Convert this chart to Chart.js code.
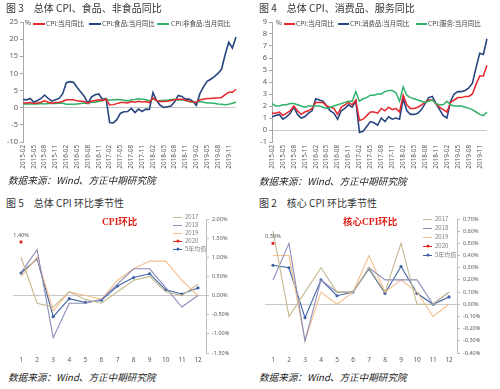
<!DOCTYPE html>
<html><head><meta charset="utf-8">
<script src="https://cdn.jsdelivr.net/npm/chart.js@4"></script>
<style>
html,body{margin:0;padding:0;background:#fff;}
body{width:500px;height:389px;overflow:hidden;position:relative;font-family:"Noto Sans CJK SC","Noto Sans",sans-serif;}
.t{position:absolute;white-space:nowrap;transform:translateY(-50%);line-height:1.2;}
.ttl{font-size:10px;color:#333;}
.src{font-size:9.6px;color:#222;font-style:italic;}
.lg{font-size:6.5px;color:#404040;}
.lgs{font-size:6px;color:#808080;}
.ln{position:absolute;height:1.5px;}
.red{font-family:"Liberation Serif","DejaVu Serif","Noto Sans CJK SC",serif;font-weight:bold;color:#e3211b;font-size:9.5px;}
canvas{position:absolute;}
.dot{position:absolute;width:3px;height:3px;border-radius:50%;transform:translate(-50%,-50%);}
</style></head>
<body>
<canvas id="c3" width="250" height="162" style="left:0;top:14px"></canvas>
<canvas id="c4" width="250" height="162" style="left:250px;top:14px"></canvas>
<canvas id="c5" width="250" height="157" style="left:0;top:210px"></canvas>
<canvas id="c2" width="250" height="157" style="left:250px;top:210px"></canvas>

<div class="t ttl" style="left:6px;top:8px">图 3　总体 CPI、食品、非食品同比</div>
<div class="t ttl" style="left:259px;top:8px">图 4　总体 CPI、消费品、服务同比</div>
<div class="t ttl" style="left:6px;top:203px">图 5　总体 CPI 环比季节性</div>
<div class="t ttl" style="left:259px;top:203px">图 2　核心 CPI 环比季节性</div>

<div class="t src" style="left:8px;top:181px">数据来源：Wind、方正中期研究院</div>
<div class="t src" style="left:259px;top:182px">数据来源：Wind、方正中期研究院</div>
<div class="t src" style="left:8px;top:378px">数据来源：Wind、方正中期研究院</div>
<div class="t src" style="left:259px;top:378px">数据来源：Wind、方正中期研究院</div>

<div class="t lg" style="left:25px;top:23px">%</div>
<div class="ln" style="left:33px;top:23px;width:12px;background:#e8262b"></div>
<div class="t lg" style="left:46px;top:24px">CPI:当月同比</div>
<div class="ln" style="left:89px;top:23px;width:12px;background:#27457f"></div>
<div class="t lg" style="left:102px;top:24px">CPI:食品:当月同比</div>
<div class="ln" style="left:157px;top:23px;width:12px;background:#2fb36a"></div>
<div class="t lg" style="left:171px;top:24px">CPI:非食品:当月同比</div>

<div class="t lg" style="left:276px;top:23px">%</div>
<div class="ln" style="left:284px;top:23px;width:11px;background:#e8262b"></div>
<div class="t lg" style="left:296px;top:24px">CPI:当月同比</div>
<div class="ln" style="left:338px;top:23px;width:11px;background:#27457f"></div>
<div class="t lg" style="left:350px;top:24px">CPI:消费品:当月同比</div>
<div class="ln" style="left:416px;top:23px;width:11px;background:#2fb36a"></div>
<div class="t lg" style="left:428px;top:24px">CPI:服务:当月同比</div>

<div class="t red" style="left:102px;top:223px">CPI环比</div>
<div class="t red" style="left:343px;top:223px">核心CPI环比</div>

<div id="lg5"></div>
<div id="lg2"></div>

<script>
// ---------- data ----------
const months = ['2015-02','2015-03','2015-04','2015-05','2015-06','2015-07','2015-08','2015-09','2015-10','2015-11','2015-12',
'2016-01','2016-02','2016-03','2016-04','2016-05','2016-06','2016-07','2016-08','2016-09','2016-10','2016-11','2016-12',
'2017-01','2017-02','2017-03','2017-04','2017-05','2017-06','2017-07','2017-08','2017-09','2017-10','2017-11','2017-12',
'2018-01','2018-02','2018-03','2018-04','2018-05','2018-06','2018-07','2018-08','2018-09','2018-10','2018-11','2018-12',
'2019-01','2019-02','2019-03','2019-04','2019-05','2019-06','2019-07','2019-08','2019-09','2019-10','2019-11','2019-12',
'2020-01'];
const cpiYoY = [1.4,1.4,1.5,1.2,1.4,1.6,2.0,1.6,1.3,1.5,1.6,
1.8,2.3,2.3,2.3,2.0,1.9,1.8,1.3,1.9,2.1,2.3,2.1,
2.5,0.8,0.9,1.2,1.5,1.5,1.4,1.8,1.6,1.9,1.7,1.8,
1.5,2.9,2.1,1.8,1.8,1.9,2.1,2.3,2.5,2.5,2.2,1.9,
1.7,1.5,2.3,2.5,2.7,2.7,2.8,2.8,3.0,3.8,4.5,4.5,
5.4];
const foodYoY = [2.4,2.3,2.7,1.6,2.1,2.7,3.7,2.7,1.9,2.3,2.7,
4.1,7.3,7.6,7.4,5.9,4.6,3.3,1.3,3.2,3.8,4.0,2.4,
2.7,-4.3,-4.4,-3.5,-1.6,-1.2,-1.1,-0.2,-1.4,-0.4,-1.1,-0.4,
-0.5,4.4,2.1,0.7,0.1,0.3,0.5,1.7,3.6,3.3,2.5,2.5,
1.9,0.7,4.1,6.1,7.7,8.3,9.1,10.0,11.2,15.5,19.1,17.4,
20.6];
const nonFoodYoY = [1.0,1.1,1.1,1.1,1.1,1.2,1.1,1.2,1.2,1.2,1.3,
1.3,1.0,1.0,1.0,1.1,1.2,1.4,1.3,1.6,1.6,1.9,2.0,
2.5,2.2,2.3,2.4,2.3,2.2,2.0,2.3,2.4,2.6,2.5,2.4,
2.0,2.5,2.1,2.0,2.2,2.2,2.4,2.5,2.2,2.3,2.1,1.8,
1.6,1.7,1.8,1.6,1.4,1.4,1.3,1.1,1.0,0.9,1.0,1.3,
1.6];
const consumerYoY = [1.1,1.2,1.3,0.9,1.1,1.4,1.9,1.3,1.0,1.1,1.4,
1.6,2.6,2.5,2.4,2.0,1.6,1.4,0.9,1.6,1.8,2.1,1.9,
2.4,-0.2,-0.1,0.3,0.7,0.6,0.4,1.0,0.7,1.1,0.9,1.0,
0.9,2.6,1.6,1.3,1.3,1.4,1.7,2.2,2.7,2.8,2.2,1.7,
1.2,1.0,2.4,3.0,3.2,3.2,3.3,3.5,3.9,5.2,6.4,6.3,
7.6];
const serviceYoY = [2.2,2.0,2.0,2.1,2.1,2.2,2.2,2.1,2.0,1.9,2.0,
2.0,2.0,2.0,1.9,1.8,1.9,2.0,2.1,2.2,2.3,2.4,2.4,
3.2,2.4,2.6,2.7,2.9,2.9,3.0,3.0,3.2,3.3,3.3,3.1,
2.4,3.6,2.9,2.7,2.6,2.5,2.4,2.3,2.4,2.5,2.2,2.1,
2.1,2.4,2.1,2.0,2.0,2.0,1.9,1.8,1.7,1.5,1.3,1.2,
1.5];

const monthNums = ['1','2','3','4','5','6','7','8','9','10','11','12'];
const mom2017 = [1.0,-0.2,-0.3,0.1,-0.1,-0.2,0.1,0.4,0.5,0.1,0.0,0.3];
const mom2018 = [0.6,1.2,-1.1,-0.2,-0.2,-0.1,0.3,0.7,0.7,0.2,-0.3,0.0];
const mom2019 = [0.5,1.0,-0.4,0.1,0.0,-0.1,0.4,0.7,0.9,0.9,0.4,0.0];
const mom2020 = [1.4,null,null,null,null,null,null,null,null,null,null,null];
const momAvg5 = [0.59,0.96,-0.55,-0.08,-0.18,-0.12,0.25,0.47,0.57,0.15,0.04,0.20];

const core2017 = [0.6,-0.1,0.1,0.3,0.1,0.1,0.3,0.1,0.5,0.0,0.0,0.1];
const core2018 = [0.2,0.5,-0.3,0.2,0.1,0.1,0.3,0.2,0.2,0.2,0.0,0.1];
const core2019 = [0.4,0.4,-0.3,0.1,0.0,0.1,0.4,0.1,0.2,0.1,-0.1,0.0];
const core2020 = [0.5,null,null,null,null,null,null,null,null,null,null,null];
const coreAvg5 = [0.32,0.30,-0.11,0.20,0.07,0.10,0.29,0.09,0.31,0.09,0.00,0.06];

// ---------- styles ----------
const RED='#e8262b', NAVY='#27457f', GREEN='#2fb36a';
const C17='#c4b98e', C18='#8c8cba', C19='#f5bf8c', C20='#e0271f', CAVG='#3d62a4';
const AX='#a6a6a6', TXT='#595959';
const FONT='"Noto Sans","Noto Sans CJK SC",sans-serif';

function lineDs(label,data,color,w){
  return {label,data,borderColor:color,backgroundColor:color,borderWidth:w,pointRadius:0,tension:0,fill:false};
}
function zeroGrid(c){ return Math.abs(c.tick.value)<1e-9 ? '#c8c8c8' : 'rgba(0,0,0,0)'; }

function topChart(id,datasets,min,max,step,yW,padR){
  new Chart(document.getElementById(id),{
    type:'line',
    data:{labels:months,datasets},
    options:{
      responsive:false,animation:false,
      layout:{padding:{top:8,right:padR,left:0,bottom:0}},
      plugins:{legend:{display:false},tooltip:{enabled:false}},
      scales:{
        x:{offset:false,
           grid:{display:false,drawTicks:false,tickLength:0},border:{display:false},
           ticks:{autoSkip:false,minRotation:90,maxRotation:90,padding:3,color:TXT,
             font:{family:FONT,size:6.3},
             callback:(v,i)=> i%3===0 ? months[i] : ''},
           afterFit:s=>{s.height=34;}},
        y:{min,max,
           ticks:{stepSize:step,color:TXT,font:{family:FONT,size:7.5},padding:2},
           grid:{color:zeroGrid,tickColor:AX,tickLength:3,lineWidth:1},
           border:{display:true,color:AX},
           afterFit:s=>{s.width=yW;}}
      }
    }
  });
}

topChart('c3',[
  lineDs('CPI:当月同比',cpiYoY,RED,1.5),
  lineDs('CPI:非食品:当月同比',nonFoodYoY,GREEN,1.5),
  lineDs('CPI:食品:当月同比',foodYoY,NAVY,1.6)
],-10,25,5,23,14);

topChart('c4',[
  lineDs('CPI:服务:当月同比',serviceYoY,GREEN,1.5),
  lineDs('CPI:当月同比',cpiYoY,RED,1.5),
  lineDs('CPI:消费品:当月同比',consumerYoY,NAVY,1.6)
],-1,9,1,22,13);

const pointLabel={
  id:'pointLabel',
  afterDatasetsDraw(chart){
    const ctx=chart.ctx;
    chart.data.datasets.forEach((ds,di)=>{
      if(ds.label!=='2020')return;
      const p=chart.getDatasetMeta(di).data[0];
      ctx.save();
      ctx.font='5.5px '+FONT;ctx.fillStyle='#555';ctx.textAlign='center';ctx.textBaseline='bottom';
      ctx.fillText(ds.data[0].toFixed(2)+'%',p.x,p.y-4);
      ctx.restore();
    });
  }
};

function seasonChart(id,sets,min,max,step,padL,padR){
  const ds=[
    lineDs('2017',sets[0],C17,1.1),
    lineDs('2018',sets[1],C18,1.1),
    lineDs('2019',sets[2],C19,1.1),
    Object.assign(lineDs('5年均值',sets[4],CAVG,1.1),{pointRadius:1.6,pointBackgroundColor:CAVG,pointBorderWidth:0}),
    Object.assign(lineDs('2020',sets[3],C20,1.5),{pointRadius:2,pointStyle:'rect',pointBackgroundColor:C20,pointBorderWidth:0})
  ];
  new Chart(document.getElementById(id),{
    type:'line',
    data:{labels:monthNums,datasets:ds},
    plugins:[pointLabel],
    options:{
      responsive:false,animation:false,
      layout:{padding:{top:9,right:padR,left:padL,bottom:0}},
      plugins:{legend:{display:false},tooltip:{enabled:false}},
      scales:{
        x:{offset:true,grid:{display:false,drawTicks:false,tickLength:0},border:{display:false},
           ticks:{color:TXT,font:{family:FONT,size:6.5},padding:3,maxRotation:0},
           afterFit:s=>{s.height=14;}},
        y:{position:'right',min,max,
           ticks:{stepSize:step,color:TXT,font:{family:FONT,size:5.5},padding:3,
             callback:v=>v.toFixed(2)+'%'},
           grid:{color:zeroGrid,tickColor:'#bdbdbd',tickLength:3},
           border:{display:true,color:'#bdbdbd'},
           afterFit:s=>{s.width=35;}}
      }
    }
  });
}
seasonChart('c5',[mom2017,mom2018,mom2019,mom2020,momAvg5],-1.5,2.0,0.5,13,9);
seasonChart('c2',[core2017,core2018,core2019,core2020,coreAvg5],-0.4,0.7,0.1,15,8);

// ---------- html legends for the seasonal charts ----------
function buildLegend(el,x,y0,dy){
  const items=[['2017',C17,false],['2018',C18,false],['2019',C19,false],['2020',C20,true],['5年均值',CAVG,true]];
  let h='';
  items.forEach((it,i)=>{
    const y=y0+i*dy;
    h+=`<div class="ln" style="left:${x}px;top:${y-0.5}px;width:9px;height:1px;background:${it[1]}"></div>`;
    if(it[2]) h+=`<div class="dot" style="left:${x+4.5}px;top:${y}px;background:${it[1]}"></div>`;
    h+=`<div class="t lgs" style="left:${x+12}px;top:${y}px">${it[0]}</div>`;
  });
  document.getElementById(el).innerHTML=h;
}
buildLegend('lg5',173,217,8);
buildLegend('lg2',423,219,9);
</script>
</body></html>
